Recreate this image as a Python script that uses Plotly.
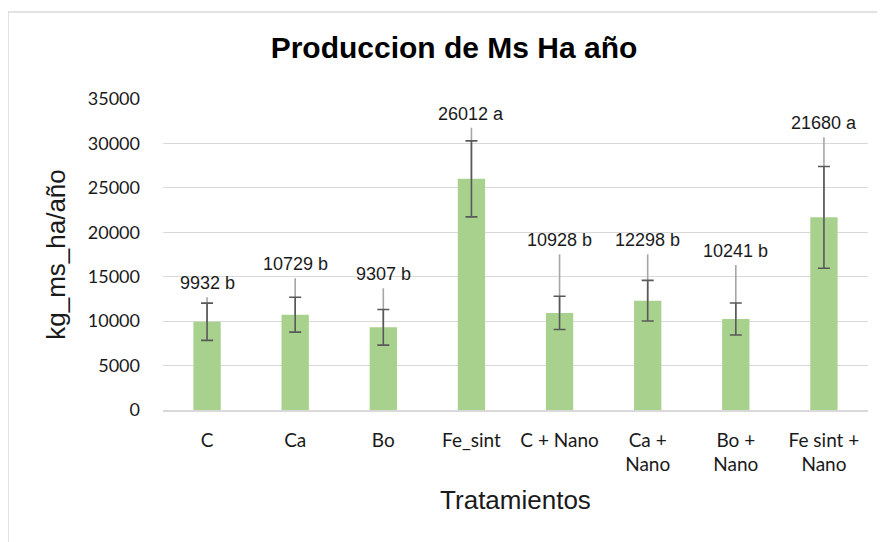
import plotly.graph_objects as go

categories = ["C", "Ca", "Bo", "Fe_sint", "C + Nano", "Ca +<br>Nano", "Bo +<br>Nano", "Fe sint +<br>Nano"]
values = [9932, 10729, 9307, 26012, 10928, 12298, 10241, 21680]
letters = ["b", "b", "b", "a", "b", "b", "b", "a"]
err_dark = [2100, 1960, 2010, 4280, 1875, 2290, 1800, 5720]
err_light = [2750, 4090, 4390, 5760, 6590, 5220, 6080, 9010]
y_ticks = [0, 5000, 10000, 15000, 20000, 25000, 30000, 35000]

OFF = 8  # page body margin
W, H = 885 - OFF, 542 - OFF
L, T = 163 - OFF, 99 - OFF
R = W - (868 - OFF)
B = H - (410 - OFF)
pw, ph = W - L - R, H - T - B

fig = go.Figure()

# light (upper) error lines
fig.add_trace(go.Bar(
    x=categories, y=values,
    marker=dict(color="rgba(0,0,0,0)", line=dict(width=0)),
    width=0.31,
    error_y=dict(type="data", symmetric=False, array=err_light,
                 arrayminus=[0] * len(values), width=0,
                 color="#A6A6A6", thickness=1.6),
    hoverinfo="skip", showlegend=False,
))

# main bars with dark error bars
fig.add_trace(go.Bar(
    x=categories, y=values,
    marker=dict(color="#A9D18E", line=dict(width=0)),
    width=0.31,
    error_y=dict(type="data", array=err_dark, width=6,
                 color="#595959", thickness=1.6),
    showlegend=False,
))

for c, v, l, e in zip(categories, values, letters, err_light):
    fig.add_annotation(
        x=c, y=v + e, text=f"{v} {l}", showarrow=False,
        yanchor="middle", yshift=14,
        font=dict(family="Liberation Sans, Arial", size=18, color="#1a1a1a"),
    )

# outer chart border (left/top visible)
fig.add_shape(type="rect", xref="paper", yref="paper",
              x0=(8 - OFF - L) / pw, x1=(W + 20 - L) / pw,
              y0=(T + ph - (H + 20)) / ph, y1=(T + ph - (12 - OFF)) / ph,
              line=dict(color="#D9D9D9", width=1.5), fillcolor="rgba(0,0,0,0)",
              layer="below")

fig.update_layout(
    width=W, height=H,
    margin=dict(l=L, r=R, t=T, b=B),
    paper_bgcolor="white", plot_bgcolor="white",
    barmode="overlay",
    title=dict(text="<b>Produccion de Ms Ha año</b>", x=(454 - OFF) / W, xanchor="center",
               y=1 - (47 - OFF) / H, yanchor="middle", xref="container", yref="container",
               font=dict(family="Liberation Sans, Arial", size=30, color="#000000")),
    xaxis=dict(
        showgrid=False, showline=True, linecolor="#D9D9D9", linewidth=1.5,
        ticks="", ticklabelstandoff=12,
        tickfont=dict(family="Lato", size=19, color="#1a1a1a"),
        title=dict(text="Tratamientos", standoff=17,
                   font=dict(family="Liberation Sans, Arial", size=26, color="#1a1a1a")),
    ),
    yaxis=dict(
        range=[0, 35000], tickvals=y_ticks, ticktext=[str(t) for t in y_ticks],
        showgrid=True, gridcolor="#D9D9D9", gridwidth=1.2,
        zeroline=False, showline=False, ticks="", ticklabelstandoff=22,
        tickfont=dict(family="Lato", size=18, color="#1a1a1a"),
        title=dict(text="kg_ms_ha/año", standoff=14,
                   font=dict(family="Liberation Sans, Arial", size=26, color="#1a1a1a")),
    ),
)

fig.write_html("out.html")
